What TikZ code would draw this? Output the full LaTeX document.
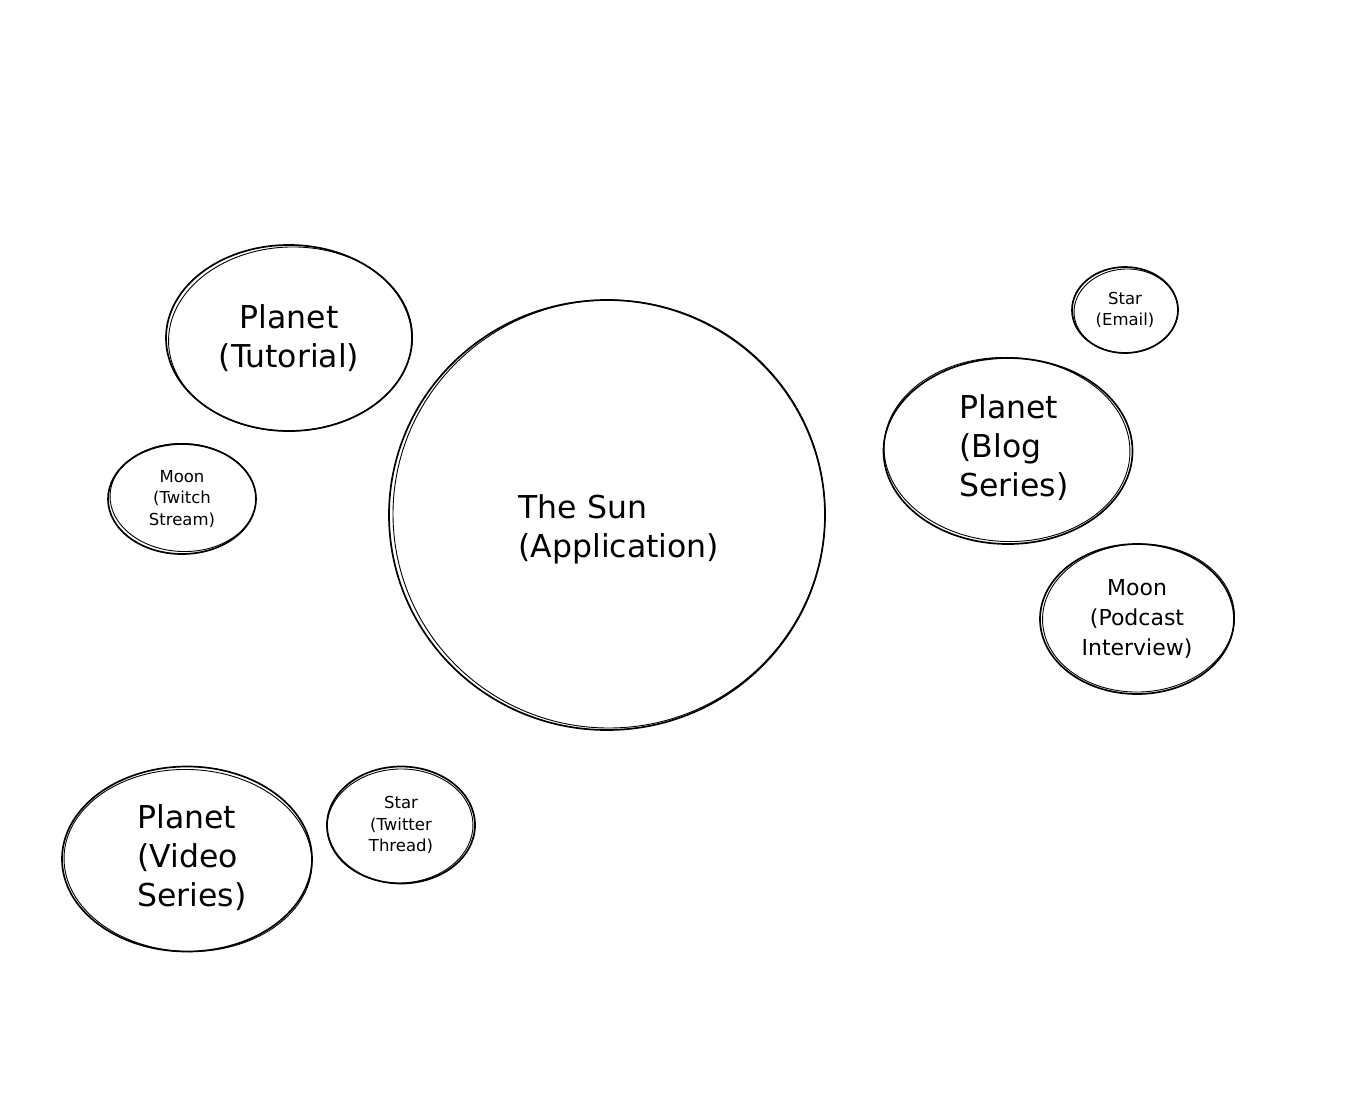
\documentclass[tikz,border=0pt]{standalone}
\usepackage{fontspec}
\setmainfont{DejaVu Sans}
\usetikzlibrary{shapes.geometric,calc}
\tikzset{
  ell/.style={ellipse, draw=black, line width=1.7pt, inner sep=0pt, align=center},
  sk/.style={draw=black, line width=0.9pt},
  big/.style={font=\fontsize{31.5}{39}\selectfont},
  mid/.style={font=\fontsize{22}{30}\selectfont},
  small/.style={font=\fontsize{16.5}{21.5}\selectfont},
}
\begin{document}
\begin{tikzpicture}[x=1pt,y=-1pt]
\useasboundingbox[fill=white] (0,0) rectangle (1352,1106);

% The Sun
\node[ell, minimum width=436pt, minimum height=430pt] (sun) at (607,515) {};
\draw[sk] ($(sun.center)+(2,-1)$) ellipse [x radius=216, y radius=214, rotate=2];
\node[big, align=left, anchor=west] (suntext) at (515,529) {The Sun\\(Application)};

% Planet (Tutorial)
\node[ell, big, minimum width=246pt, minimum height=186pt] (tut) at (289,338) {Planet\\(Tutorial)};
\draw[sk] ($(tut.center)+(1.5,1)$) ellipse [x radius=122, y radius=92, rotate=2];

% Moon (Twitch Stream)
\node[ell, small, minimum width=148pt, minimum height=110pt] (twitch) at (182,499) {Moon\\(Twitch\\Stream)};
\draw[sk] ($(twitch.center)+(1,-1.5)$) ellipse [x radius=73, y radius=54, rotate=-2];

% Star (Email)
\node[ell, small, minimum width=106pt, minimum height=86pt] (email) at (1125,310) {Star\\(Email)};
\draw[sk] ($(email.center)+(1,1)$) ellipse [x radius=52, y radius=42, rotate=3];

% Planet (Blog Series)
\node[ell, minimum width=249pt, minimum height=186pt] (blog) at (1008,451) {};
\draw[sk] ($(blog.center)+(-1,-1.5)$) ellipse [x radius=123, y radius=92, rotate=-2];
\node[big, align=left, anchor=west] (blogtext) at (956,448) {Planet\\(Blog\\Series)};

% Moon (Podcast Interview)
\node[ell, mid, minimum width=194pt, minimum height=150pt] (podcast) at (1137,619) {Moon\\(Podcast\\Interview)};
\draw[sk] ($(podcast.center)+(1.5,-1)$) ellipse [x radius=96, y radius=74, rotate=2];

% Planet (Video Series)
\node[ell, minimum width=250pt, minimum height=185pt] (video) at (187,859) {};
\draw[sk] ($(video.center)+(1,1.5)$) ellipse [x radius=124, y radius=91, rotate=-2];
\node[big, align=left, anchor=west] (videotext) at (134,858) {Planet\\(Video\\Series)};

% Star (Twitter Thread)
\node[ell, small, minimum width=148pt, minimum height=117pt] (twitter) at (401,825) {Star\\(Twitter\\Thread)};
\draw[sk] ($(twitter.center)+(-1,1)$) ellipse [x radius=73, y radius=57, rotate=2];

\end{tikzpicture}
\end{document}
